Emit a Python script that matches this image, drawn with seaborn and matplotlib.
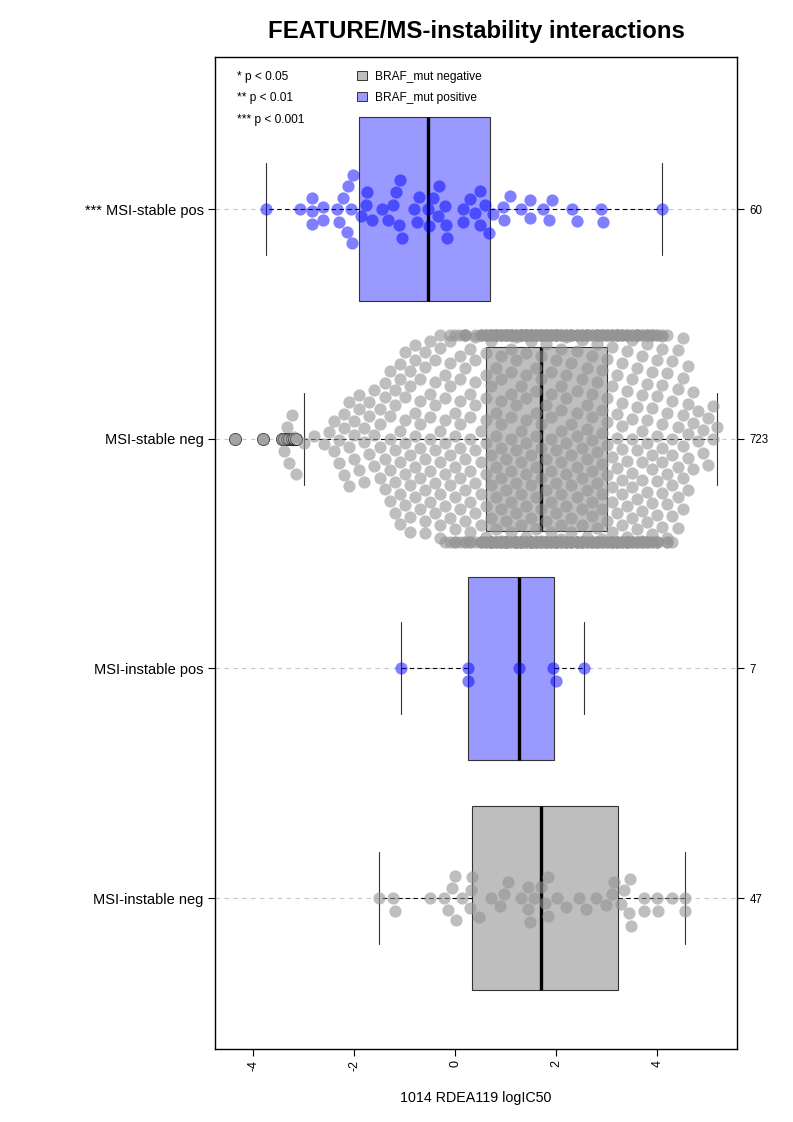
import warnings
import numpy as np
import pandas as pd
import seaborn as sns
import matplotlib.pyplot as plt
from matplotlib.patches import Patch

warnings.filterwarnings("ignore")

# groups from top to bottom of the chart
groups = ['MSI-stable pos', 'MSI-stable neg', 'MSI-instable pos', 'MSI-instable neg']
group_labels = ['*** MSI-stable pos', 'MSI-stable neg', 'MSI-instable pos', 'MSI-instable neg']
braf_status = ['positive', 'negative', 'positive', 'negative']

# logIC50 values
stable_pos = [-3.75, -3.08, -2.84, -2.84, -2.84, -2.61, -2.61, -2.35, -2.30, -2.23,
              -2.15, -2.13, -2.07, -2.05, -2.02, -1.87, -1.77, -1.75, -1.64, -1.46,
              -1.33, -1.23, -1.18, -1.11, -1.10, -1.06, -0.81, -0.76, -0.72, -0.55,
              -0.53, -0.44, -0.35, -0.32, -0.20, -0.18, -0.16, 0.16, 0.16, 0.30,
              0.39, 0.49, 0.49, 0.58, 0.67, 0.75, 0.95, 0.97, 1.08, 1.30,
              1.47, 1.47, 1.74, 1.86, 1.92, 2.32, 2.40, 2.88, 2.93, 4.09]

instable_pos = [-1.08, 0.26, 0.26, 1.26, 1.93, 1.99, 2.55]

instable_neg = [-1.52, -1.23, -1.19, -0.51, -0.23, -0.14, -0.07, -0.01, 0.01, 0.13,
                0.29, 0.32, 0.34, 0.46, 0.70, 0.89, 0.97, 1.04, 1.30, 1.43,
                1.43, 1.47, 1.56, 1.69, 1.78, 1.83, 1.84, 2.02, 2.19, 2.44,
                2.58, 2.78, 2.98, 3.11, 3.15, 3.28, 3.34, 3.44, 3.46, 3.48,
                3.74, 3.74, 4.00, 4.02, 4.30, 4.55, 4.55]

# MSI-stable neg (723 lines): tails read point by point, dense core estimated per 0.1 bin
stable_neg_low = [-4.36, -3.81, -3.44, -3.39, -3.34, -3.29, -3.24, -3.20, -3.16, -2.99, -2.79]
stable_neg_bins = np.round(np.arange(-2.6, 5.15, 0.1), 1)
stable_neg_counts = [1, 1, 2, 2, 3, 3, 3, 3, 3, 3, 3, 4, 4, 5, 5, 6, 6, 6, 6, 6, 6, 6,
                     6, 7, 7, 8, 8, 9, 9, 9, 9, 10,
                     14, 15, 16, 16, 16, 16, 17, 17, 16, 16, 16,
                     16,
                     15, 15, 15, 14, 14, 14, 14, 13, 13, 13, 13, 13,
                     12,
                     13, 13, 13, 13, 12, 12, 12, 12, 11, 10, 9, 8, 7, 6, 6, 5, 3, 2, 2, 2, 2]
stable_neg_high = [5.18]

stable_neg = np.concatenate([stable_neg_low,
                             np.repeat(stable_neg_bins, stable_neg_counts),
                             stable_neg_high])

values = {
    'MSI-stable pos': np.asarray(stable_pos),
    'MSI-stable neg': stable_neg,
    'MSI-instable pos': np.asarray(instable_pos),
    'MSI-instable neg': np.asarray(instable_neg),
}

box_colors = {'negative': '#BEBEBE', 'positive': '#9999FF'}
point_colors = {'negative': ((0.58, 0.58, 0.58), 0.6), 'positive': ((0.0, 0.0, 1.0), 0.5)}

# spacing < 1 so that each swarm (0.8 native units wide) spreads a bit past its box
SPACING = 0.8 / 0.9
positions = [i * SPACING for i in range(len(groups))]

rows = []
for g, p, b in zip(groups, positions, braf_status):
    for v in values[g]:
        rows.append({'logIC50': v, 'group': g, 'pos': p, 'BRAF': b})
df = pd.DataFrame(rows)

sns.set_style("ticks")
plt.rcParams['font.family'] = ['Liberation Sans', 'DejaVu Sans']
for key in ['text.color', 'axes.labelcolor', 'xtick.color', 'ytick.color']:
    plt.rcParams[key] = 'black'

fig = plt.figure(figsize=(7.93, 11.22), dpi=100)
ax = fig.add_axes([0.2711, 0.0651, 0.6583, 0.8841])

for p in positions:
    ax.axhline(p, color='#C8C8C8', linestyle=(0, (4, 4)), linewidth=0.8, zorder=0)

sns.boxplot(data=df, x='logIC50', y='pos', hue='BRAF', palette=box_colors,
            native_scale=True, orient='y', dodge=False, width=0.8, whis=1.5,
            saturation=1, linecolor='#333333', linewidth=0.8, legend=False, ax=ax,
            medianprops=dict(color='black', linewidth=2.4),
            whiskerprops=dict(color='black', linestyle=(0, (4, 3)), linewidth=0.8),
            capprops=dict(color='#333333', linewidth=0.8),
            flierprops=dict(marker='o', markersize=8.6, markerfacecolor='#BEBEBE',
                            markeredgecolor='#222222', markeredgewidth=0.7))

for g, b in zip(groups, braf_status):
    col, alpha = point_colors[b]
    sns.swarmplot(data=df[df['group'] == g], x='logIC50', y='pos', native_scale=True,
                  orient='y', color=col, alpha=alpha, size=8.8, linewidth=0,
                  zorder=3, ax=ax)

ax.set_xlim(-4.758, 5.578)
ax.set_ylim(3.657 * SPACING, -0.662 * SPACING)
ax.set_yticks(positions)
ax.set_yticklabels(group_labels, fontsize=10.5)
ax.set_ylabel('')
ax.set_xticks([-4, -2, 0, 2, 4])
ax.set_xticklabels(['-4', '-2', '0', '2', '4'], rotation=90, fontsize=9)
ax.set_xlabel('1014 RDEA119 logIC50', fontsize=10.3, labelpad=14)
ax.set_title('FEATURE/MS-instability interactions', fontsize=17.3,
             fontweight='bold', pad=14)
ax.tick_params(direction='out', length=5, width=0.8, color='black', pad=3)

for s in ax.spines.values():
    s.set_visible(True)
    s.set_color('black')
    s.set_linewidth(1.0)

# p-value key and BRAF legend
for i, txt in enumerate(['* p < 0.05', '** p < 0.01', '*** p < 0.001']):
    ax.text(0.042, 0.980 - i * 0.0217, txt, transform=ax.transAxes,
            fontsize=8.6, va='center', ha='left')

handles = [Patch(facecolor=box_colors['negative'], edgecolor='#333333', linewidth=0.7,
                 label='BRAF_mut negative'),
           Patch(facecolor=box_colors['positive'], edgecolor='#333333', linewidth=0.7,
                 label='BRAF_mut positive')]
ax.legend(handles=handles, loc='upper left', bbox_to_anchor=(0.272, 0.986),
          frameon=False, fontsize=8.6, handlelength=0.8, handleheight=0.8,
          handletextpad=0.7, labelspacing=0.75, borderpad=0, borderaxespad=0)

# number of cell lines per group on the right
ax2 = ax.twinx()
ax2.set_ylim(ax.get_ylim())
ax2.set_yticks(positions)
ax2.set_yticklabels([str(len(values[g])) for g in groups], fontsize=8.3)
ax2.tick_params(direction='out', length=5, width=0.8, color='black', pad=4)
for s in ax2.spines.values():
    s.set_visible(False)

fig.savefig('out.png', dpi=100)
